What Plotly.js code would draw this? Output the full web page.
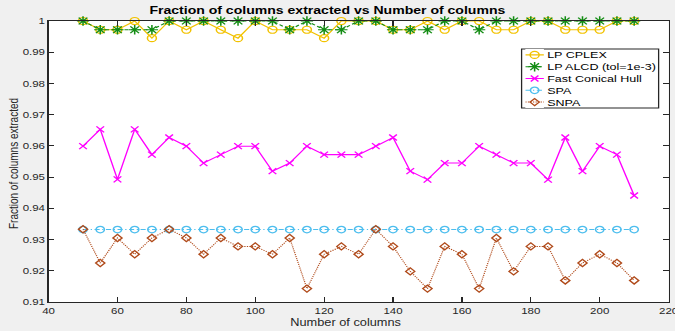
<!DOCTYPE html>
<html>
<head>
<meta charset="utf-8">
<script src="https://cdn.plot.ly/plotly-3.0.1.min.js"></script>
<style>
  html, body { margin: 0; padding: 0; background: #f0f0f0; overflow: hidden; }
  #wrap { width: 675px; height: 331px; overflow: hidden; }
  /* the figure is laid out narrower and widened horizontally */
  #chart { width: 528px; height: 331px; transform: scaleX(1.2784); transform-origin: 0 0; }
</style>
</head>
<body>
<div id="wrap"><div id="chart"></div></div>
<script>
// Number of columns on the x axis
const numColumns = [50, 55, 60, 65, 70, 75, 80, 85, 90, 95, 100, 105, 110, 115, 120, 125, 130,
                    135, 140, 145, 150, 155, 160, 165, 170, 175, 180, 185, 190, 195, 200, 205, 210];

// Fraction of columns extracted, one array per method
const lpCplex = [1, 0.9972, 0.9972, 1, 0.9945, 1, 0.9972, 1, 0.9972, 0.9945, 1, 0.9972, 0.9972, 0.9972, 0.9945, 1, 1,
                 1, 0.9972, 0.9972, 1, 0.9972, 1, 1, 0.9972, 0.9972, 1, 1, 0.9972, 0.9972, 0.9972, 1, 1];
const lpAlcd = [1, 0.9972, 0.9972, 0.9972, 0.9972, 1, 1, 1, 1, 1, 1, 1, 0.9972, 1, 0.9972, 0.9972, 1,
                1, 0.9972, 0.9972, 0.9972, 1, 1, 0.9972, 1, 1, 1, 1, 1, 1, 1, 1, 1];
const fastConicalHull = [0.9599, 0.9653, 0.9493, 0.9653, 0.9572, 0.9627, 0.9599, 0.9545, 0.9572, 0.9599, 0.9599,
                         0.9519, 0.9545, 0.9599, 0.9572, 0.9572, 0.9572, 0.9599, 0.9627, 0.9519, 0.9492, 0.9545,
                         0.9545, 0.9599, 0.9572, 0.9545, 0.9545, 0.9492, 0.9627, 0.9519, 0.9599, 0.9572, 0.9441];
const spa = [0.9332, 0.9332, 0.9332, 0.9332, 0.9332, 0.9332, 0.9332, 0.9332, 0.9332, 0.9332, 0.9332,
             0.9332, 0.9332, 0.9332, 0.9332, 0.9332, 0.9332, 0.9332, 0.9332, 0.9332, 0.9332, 0.9332,
             0.9332, 0.9332, 0.9332, 0.9332, 0.9332, 0.9332, 0.9332, 0.9332, 0.9332, 0.9332, 0.9332];
const snpa = [0.9333, 0.9225, 0.9305, 0.9253, 0.9305, 0.9333, 0.9305, 0.9253, 0.9305, 0.9278, 0.9278,
              0.9253, 0.9305, 0.9143, 0.9253, 0.9278, 0.9253, 0.9333, 0.9278, 0.9198, 0.9143, 0.9278,
              0.9253, 0.9143, 0.9305, 0.9198, 0.9278, 0.9278, 0.9169, 0.9225, 0.9253, 0.9225, 0.9169];

// Tick positions and labels
const xTickVals = [40, 60, 80, 100, 120, 140, 160, 180, 200, 220];
const xTickText = ['40', '60', '80', '100', '120', '140', '160', '180', '200', '220'];
const yTickVals = [0.91, 0.92, 0.93, 0.94, 0.95, 0.96, 0.97, 0.98, 0.99, 1];
const yTickText = ['0.91', '0.92', '0.93', '0.94', '0.95', '0.96', '0.97', '0.98', '0.99', '1'];

const seriesNames = ['LP CPLEX', 'LP ALCD (tol=1e-3)', 'Fast Conical Hull', 'SPA', 'SNPA'];
const seriesValues = [lpCplex, lpAlcd, fastConicalHull, spa, snpa];

const chartTitle = 'Fraction of columns extracted vs Number of columns';
const xTitle = 'Number of columns';
const yTitle = 'Fraction of columns extracted';

// Appearance of each method
const styles = [
  { color: '#F2C200', symbol: 'circle-open',   size: 7,   dash: 'solid',   width: 1.1 },
  { color: '#138C13', symbol: 'asterisk-open', size: 8,   dash: '3px,2px', width: 1.1 },
  { color: '#FF00FF', symbol: 'x-thin-open',   size: 6,   dash: 'solid',   width: 1.1 },
  { color: '#4DBEEE', symbol: 'circle-open',   size: 6.5, dash: '4px,2px,1px,2px', width: 1 },
  { color: '#B04A1A', symbol: 'diamond-open',  size: 5.5, dash: '1px,1px', width: 1 }
];

const FONT = 'Liberation Sans, Arial, Helvetica, sans-serif';
const INK = '#262626';

const traces = seriesValues.map((vals, i) => ({
  type: 'scatter',
  mode: 'lines+markers',
  name: seriesNames[i],
  x: numColumns,
  y: vals,
  xaxis: 'x', yaxis: 'y',
  cliponaxis: false,
  showlegend: false,
  line: { color: styles[i].color, width: styles[i].width, dash: styles[i].dash },
  marker: { symbol: styles[i].symbol, size: styles[i].size,
            line: { color: styles[i].color, width: 1.2 } }
}));

// Legend key: a short line with one marker per method, in its own small axes
const keyX = [0, 0.5, 1];
seriesNames.forEach((name, i) => {
  traces.push({
    type: 'scatter',
    mode: 'lines+markers',
    x: keyX,
    y: keyX.map(() => i),
    xaxis: 'x2', yaxis: 'y2',
    showlegend: false,
    hoverinfo: 'skip',
    cliponaxis: false,
    line: { color: styles[i].color, width: styles[i].width, dash: styles[i].dash },
    marker: { symbol: styles[i].symbol, size: styles[i].size, opacity: [0, 1, 0],
              line: { color: styles[i].color, width: 1.2 } }
  });
});

// legend box, in paper coordinates of the main axes
const box = { x0: 0.7629, x1: 0.9839, y0: 0.6904, y1: 0.9004 };

const annotations = seriesNames.map((name, i) => ({
  text: name, xref: 'paper', yref: 'y2', x: 0.801, y: i,
  xanchor: 'left', yanchor: 'middle', showarrow: false,
  font: { family: FONT, size: 9.8, color: '#000' }
}));
annotations.push({
  text: xTitle, xref: 'paper', yref: 'paper', x: 0.480, y: -0.0747,
  xanchor: 'center', yanchor: 'middle', showarrow: false,
  font: { family: FONT, size: 10, color: INK }
});
annotations.push({
  text: yTitle, xref: 'paper', yref: 'paper', x: -0.0576, y: 0.491, textangle: -90,
  xanchor: 'center', yanchor: 'middle', showarrow: false,
  font: { family: FONT, size: 10, color: INK }
});

const axisCommon = {
  showgrid: false, zeroline: false, showline: true, linecolor: INK, linewidth: 1,
  mirror: 'allticks', ticks: 'inside', tickcolor: INK, tickwidth: 1,
  ticklabeloverflow: 'allow',
  tickfont: { family: FONT, size: 9, color: INK }, fixedrange: true
};

const layout = {
  width: 528, height: 331,
  margin: { l: 38.3, r: 4.7, t: 21, b: 29, pad: 0 },
  paper_bgcolor: '#f0f0f0',
  plot_bgcolor: '#ffffff',
  showlegend: false,
  font: { family: FONT, color: INK },
  title: {
    text: chartTitle, xref: 'container', x: 0.485, y: 0.968,
    xanchor: 'center', yanchor: 'middle',
    font: { family: FONT, size: 11, color: '#000', weight: 'bold' }
  },
  xaxis: Object.assign({}, axisCommon, {
    range: [40, 220], tickmode: 'array', tickvals: xTickVals, ticktext: xTickText, ticklen: 5
  }),
  yaxis: Object.assign({}, axisCommon, {
    range: [0.91, 1], tickmode: 'array', tickvals: yTickVals, ticktext: yTickText, ticklen: 4
  }),
  xaxis2: { domain: [0.7689, 0.7989], range: [0, 1], anchor: 'y2', visible: false, fixedrange: true },
  yaxis2: { domain: [box.y0, box.y1], range: [4.5, -0.5], anchor: 'x2', visible: false, fixedrange: true },
  shapes: [{
    type: 'rect', xref: 'paper', yref: 'paper', layer: 'below',
    x0: box.x0, x1: box.x1, y0: box.y0, y1: box.y1,
    fillcolor: '#ffffff', line: { color: INK, width: 1 }
  }],
  annotations: annotations
};

Plotly.newPlot('chart', traces, layout, { displayModeBar: false, staticPlot: true });
</script>
</body>
</html>
